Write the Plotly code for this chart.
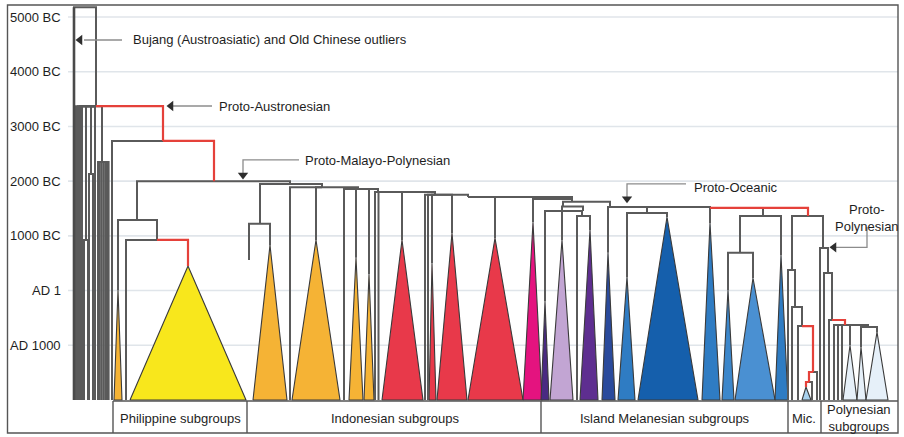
import plotly.graph_objects as go

# ---------------------------------------------------------------- time axis
tick_years = [-5000, -4000, -3000, -2000, -1000, 0, 1000]
tick_labels = ["5000 BC", "4000 BC", "3000 BC", "2000 BC", "1000 BC", "AD 1", "AD 1000"]
PRESENT_YEAR = 2000

# ------------------------------------------ internal nodes: parent and date
node_parent = {
    "Root": None,
    "Proto-Austronesian": "Root",
    "Formosan 5-6": "Proto-Austronesian",
    "Formosan 7-8": "Proto-Austronesian",
    "Formosan 10-16": "Proto-Austronesian",
    "Proto-Eastern-Formosan": "Proto-Austronesian",
    "Proto-Malayo-Polynesian": "Proto-Eastern-Formosan",
    "Philippine 0": "Proto-Malayo-Polynesian",
    "Philippine 1": "Philippine 0",
    "Indonesian 1": "Proto-Malayo-Polynesian",
    "Borneo": "Indonesian 1",
    "Indonesian 2": "Indonesian 1",
    "Indonesian 3": "Indonesian 2",
    "Indonesian 4": "Indonesian 3",
    "Indonesian 5": "Indonesian 4",
    "Indonesian 6": "Indonesian 5",
    "Indonesian 7": "Indonesian 6",
    "Indonesian 8": "Indonesian 7",
    "Western Melanesian 1": "Indonesian 8",
    "Western Melanesian 2": "Western Melanesian 1",
    "Western Melanesian 3": "Western Melanesian 2",
    "Proto-Oceanic": "Indonesian 8",
    "Western Oceanic": "Proto-Oceanic",
    "Eastern Oceanic": "Proto-Oceanic",
    "Southeast Solomonic": "Eastern Oceanic",
    "Southeast Solomonic 1": "Southeast Solomonic",
    "Central-Eastern Oceanic": "Eastern Oceanic",
    "Micronesian 1": "Central-Eastern Oceanic",
    "Micronesian 2": "Micronesian 1",
    "Micronesian 3": "Micronesian 2",
    "Micronesian 4": "Micronesian 3",
    "Micronesian 5": "Micronesian 4",
    "Proto-Polynesian": "Central-Eastern Oceanic",
    "Polynesian 1": "Proto-Polynesian",
    "Polynesian 2": "Polynesian 1",
    "Polynesian 3": "Polynesian 2",
    "Polynesian 4": "Polynesian 3",
}
node_year = {
    "Root": -5180, "Proto-Austronesian": -3370, "Formosan 5-6": -925,
    "Formosan 7-8": -2130, "Formosan 10-16": -2350, "Proto-Eastern-Formosan": -2735,
    "Proto-Malayo-Polynesian": -2000, "Philippine 0": -1290, "Philippine 1": -925,
    "Indonesian 1": -1950, "Borneo": -1220, "Indonesian 2": -1890,
    "Indonesian 3": -1855, "Indonesian 4": -1800, "Indonesian 5": -1750,
    "Indonesian 6": -1710, "Indonesian 7": -1675, "Indonesian 8": -1625,
    "Western Melanesian 1": -1535, "Western Melanesian 2": -1455,
    "Western Melanesian 3": -1365, "Proto-Oceanic": -1527, "Western Oceanic": -1420,
    "Eastern Oceanic": -1510, "Southeast Solomonic": -1363, "Southeast Solomonic 1": -690,
    "Central-Eastern Oceanic": -1363, "Micronesian 1": -376, "Micronesian 2": 300,
    "Micronesian 3": 648, "Micronesian 4": 1488, "Micronesian 5": 1671,
    "Proto-Polynesian": -778, "Polynesian 1": -321, "Polynesian 2": 538,
    "Polynesian 3": 629, "Polynesian 4": 666,
}

# ------------------------------------------- single languages (leaf lines)
leaf_parent = {
    "Bujang / Old Chinese": "Root",
    "Formosan 1": "Proto-Austronesian", "Formosan 2": "Proto-Austronesian",
    "Formosan 3": "Proto-Austronesian", "Formosan 4": "Proto-Austronesian",
    "Formosan 5": "Formosan 5-6", "Formosan 6": "Formosan 5-6",
    "Formosan 7": "Formosan 7-8", "Formosan 8": "Formosan 7-8",
    "Formosan 9": "Proto-Austronesian",
    "Formosan 10": "Formosan 10-16", "Formosan 11": "Formosan 10-16",
    "Formosan 12": "Formosan 10-16", "Formosan 13": "Formosan 10-16",
    "Formosan 14": "Formosan 10-16", "Formosan 15": "Formosan 10-16",
    "Formosan 16": "Formosan 10-16",
    "Formosan 17": "Proto-Eastern-Formosan",
    "Philippine a": "Philippine 1",
    "Borneo a": "Borneo",
    "Indonesian a": "Indonesian 2", "Indonesian b": "Indonesian 3",
    "Indonesian c": "Indonesian 4", "Indonesian d": "Indonesian 4",
    "Indonesian e": "Indonesian 5", "Indonesian f": "Indonesian 5",
    "Western Melanesian a": "Western Melanesian 3",
    "Micronesian a": "Micronesian 1", "Micronesian b": "Micronesian 2",
    "Micronesian c": "Micronesian 3", "Micronesian d": "Micronesian 4",
    "Micronesian e": "Micronesian 5",
    "Polynesian a": "Proto-Polynesian", "Polynesian b": "Polynesian 1",
    "Polynesian c": "Polynesian 2", "Polynesian d": "Polynesian 3",
    "Polynesian e": "Polynesian 3", "Polynesian f": "Polynesian 3",
}
leaf_end_year = {"Borneo a": -560}

# --------------------------------------- collapsed subgroups (triangles)
clade_parent = {
    "Philippine b": "Philippine 0", "Philippines": "Philippine 1",
    "Borneo b": "Borneo", "Borneo c": "Indonesian 2",
    "Sulawesi a": "Indonesian 3", "Sulawesi b": "Indonesian 3",
    "Sumatra": "Indonesian 4", "Java a": "Indonesian 5", "Java b": "Indonesian 5",
    "Bali-Sasak": "Indonesian 6", "Central MP": "Indonesian 7",
    "Halmahera": "Western Melanesian 2", "SHWNG a": "Western Melanesian 1",
    "SHWNG b": "Western Melanesian 3", "Admiralties": "Proto-Oceanic",
    "Western Oceanic a": "Western Oceanic", "Western Oceanic b": "Western Oceanic",
    "Meso-Melanesian": "Eastern Oceanic", "Solomonic a": "Southeast Solomonic 1",
    "Solomonic b": "Southeast Solomonic 1", "Vanuatu": "Southeast Solomonic",
    "Micronesian f": "Micronesian 5", "Polynesian g": "Polynesian 3",
    "Polynesian h": "Polynesian 4", "Polynesian i": "Polynesian 4",
}
clade_apex_year = {
    "Philippine b": -10, "Philippines": -450, "Borneo b": -830, "Borneo c": -925,
    "Sulawesi a": -600, "Sulawesi b": -300, "Sumatra": -925, "Java a": -500,
    "Java b": -1050, "Bali-Sasak": -960, "Central MP": -1250, "Halmahera": 200,
    "SHWNG a": -925, "SHWNG b": -1105, "Admiralties": -690,
    "Western Oceanic a": -250, "Western Oceanic b": -1345, "Meso-Melanesian": -1235,
    "Solomonic a": -10, "Solomonic b": -230, "Vanuatu": -650,
    "Micronesian f": 1762, "Polynesian g": 1000, "Polynesian h": 1030,
    "Polynesian i": 760,
}

# branches highlighted in red
red_branches = ["Proto-Eastern-Formosan", "Proto-Malayo-Polynesian", "Philippines",
                "Central-Eastern Oceanic", "Micronesian 4", "Micronesian 5",
                "Micronesian f", "Polynesian 3"]

# ---------------------------------------------- horizontal layout of the tree
x_pos = {
    "Root": 85, "Proto-Austronesian": 96, "Formosan 5-6": 86, "Formosan 7-8": 91,
    "Formosan 10-16": 102, "Proto-Eastern-Formosan": 163, "Proto-Malayo-Polynesian": 214,
    "Philippine 0": 137, "Philippine 1": 157, "Indonesian 1": 290, "Borneo": 260,
    "Indonesian 2": 322, "Indonesian 3": 358, "Indonesian 4": 378, "Indonesian 5": 435,
    "Indonesian 6": 468, "Indonesian 7": 572, "Indonesian 8": 572,
    "Western Melanesian 1": 563, "Western Melanesian 2": 583, "Western Melanesian 3": 582,
    "Proto-Oceanic": 610, "Western Oceanic": 647, "Eastern Oceanic": 710,
    "Southeast Solomonic": 763, "Southeast Solomonic 1": 740,
    "Central-Eastern Oceanic": 808, "Micronesian 1": 792, "Micronesian 2": 795,
    "Micronesian 3": 802, "Micronesian 4": 813, "Micronesian 5": 809,
    "Proto-Polynesian": 823, "Polynesian 1": 828, "Polynesian 2": 832,
    "Polynesian 3": 845, "Polynesian 4": 868,
    "Bujang / Old Chinese": 74, "Formosan 1": 76, "Formosan 2": 78, "Formosan 3": 80,
    "Formosan 4": 82, "Formosan 5": 84, "Formosan 6": 88, "Formosan 7": 89,
    "Formosan 8": 93, "Formosan 9": 95, "Formosan 10": 98, "Formosan 11": 99.8,
    "Formosan 12": 101.6, "Formosan 13": 103.4, "Formosan 14": 105.2,
    "Formosan 15": 107, "Formosan 16": 108.6, "Formosan 17": 112,
    "Philippine a": 126, "Borneo a": 249, "Indonesian a": 290, "Indonesian b": 344,
    "Indonesian c": 375, "Indonesian d": 378.5, "Indonesian e": 425, "Indonesian f": 428,
    "Western Melanesian a": 577, "Micronesian a": 788, "Micronesian b": 792,
    "Micronesian c": 798, "Micronesian d": 817, "Micronesian e": 812,
    "Polynesian a": 820, "Polynesian b": 824, "Polynesian c": 829,
    "Polynesian d": 834, "Polynesian e": 838, "Polynesian f": 842,
    "Philippine b": 118, "Philippines": 188, "Borneo b": 270, "Borneo c": 316,
    "Sulawesi a": 356, "Sulawesi b": 369, "Sumatra": 402, "Java a": 432, "Java b": 452,
    "Bali-Sasak": 495, "Central MP": 533, "Halmahera": 545, "SHWNG a": 562,
    "SHWNG b": 590, "Admiralties": 608, "Western Oceanic a": 627,
    "Western Oceanic b": 667, "Meso-Melanesian": 710, "Solomonic a": 728,
    "Solomonic b": 753, "Vanuatu": 781, "Micronesian f": 806, "Polynesian g": 850,
    "Polynesian h": 861, "Polynesian i": 877,
}
clade_base = {
    "Philippine b": (114, 122), "Philippines": (130, 246), "Borneo b": (253, 287),
    "Borneo c": (292, 340), "Sulawesi a": (349, 363), "Sulawesi b": (364, 374),
    "Sumatra": (382, 423), "Java a": (429, 436), "Java b": (437, 467),
    "Bali-Sasak": (468, 523), "Central MP": (523, 542), "Halmahera": (541, 549),
    "SHWNG a": (550, 573), "SHWNG b": (580, 598), "Admiralties": (602, 615),
    "Western Oceanic a": (618, 635), "Western Oceanic b": (638, 698),
    "Meso-Melanesian": (702, 720), "Solomonic a": (722, 734), "Solomonic b": (735, 775),
    "Vanuatu": (775, 788), "Micronesian f": (802, 811), "Polynesian g": (843, 857),
    "Polynesian h": (857, 866), "Polynesian i": (866, 888),
}
ORANGE, RED, BLUE = "#f5b335", "#e8394a", "#2f7cc3"
clade_fill = {
    "Philippine b": ORANGE, "Philippines": "#f8e71c", "Borneo b": ORANGE,
    "Borneo c": ORANGE, "Sulawesi a": ORANGE, "Sulawesi b": ORANGE, "Sumatra": RED,
    "Java a": RED, "Java b": RED, "Bali-Sasak": RED, "Central MP": "#e4137f",
    "Halmahera": "#4a2a82", "SHWNG a": "#c2a5d3", "SHWNG b": "#5e2e90",
    "Admiralties": "#2a4a9c", "Western Oceanic a": BLUE, "Western Oceanic b": "#155fac",
    "Meso-Melanesian": BLUE, "Solomonic a": "#3c87cb", "Solomonic b": "#4a90d2",
    "Vanuatu": BLUE, "Micronesian f": "#a9d2ee", "Polynesian g": "#e6f0f9",
    "Polynesian h": "#e6f0f9", "Polynesian i": "#e6f0f9",
}

W, H = 904, 437
FONT = "Liberation Sans, Arial, Helvetica, sans-serif"
# vertical mapping: 5000 BC at pixel 17, present day at pixel 400
px_per_year = (400 - 17) / 7000
y_top = -5000 - 17 / px_per_year
y_bottom = PRESENT_YEAR + (H - 400) / px_per_year


def branch_end(name):
    if name in node_year:
        return node_year[name]
    if name in clade_apex_year:
        return clade_apex_year[name]
    return leaf_end_year.get(name, PRESENT_YEAR)


def px(p):
    return p / W


def py(p):
    return 1 - p / H


fig = go.Figure()

# subgroup triangles
for name, parent in clade_parent.items():
    x0, x1 = clade_base[name]
    fig.add_trace(go.Scatter(
        x=[x0, x_pos[name], x1, x0],
        y=[PRESENT_YEAR, clade_apex_year[name], PRESENT_YEAR, PRESENT_YEAR],
        mode="lines", fill="toself", fillcolor=clade_fill[name],
        line=dict(color="#3a3a3a", width=1.1), hoverinfo="skip"))

# branches as elbows: across at the parent's date, then down to the child's
grey_x, grey_y, red_x, red_y = [], [], [], []
all_parents = {**node_parent, **leaf_parent, **clade_parent}
for child, parent in all_parents.items():
    if parent is None:
        continue
    y_par = node_year[parent]
    xs = [x_pos[parent], x_pos[child], x_pos[child], None]
    ys = [y_par, y_par, branch_end(child), None]
    if child in red_branches:
        red_x += xs
        red_y += ys
    else:
        grey_x += xs
        grey_y += ys

fig.add_trace(go.Scatter(x=grey_x, y=grey_y, mode="lines",
                         line=dict(color="#5a5a5a", width=2), hoverinfo="skip"))
fig.add_trace(go.Scatter(x=red_x, y=red_y, mode="lines",
                         line=dict(color="#e5413a", width=2.2), hoverinfo="skip"))
# the outgroup branch is drawn heavier
fig.add_trace(go.Scatter(x=[x_pos["Bujang / Old Chinese"]] * 2,
                         y=[node_year["Root"], PRESENT_YEAR], mode="lines",
                         line=dict(color="#4a4a4a", width=2.6), hoverinfo="skip"))

# callout arrows
ARROW = dict(color="#8c8c8c", width=1.3)
callouts = [
    ([122, 84], [-4580, -4580], 80, -4580, "triangle-left"),
    ([212, 173], [-3373, -3373], 171, -3373, "triangle-left"),
    ([299, 243, 243], [-2390, -2390, -2110], 243, -2110, "triangle-down"),
    ([686, 627, 627], [-1950, -1950, -1680], 627, -1680, "triangle-down"),
    ([867, 867, 836], [-1160, -790, -790], 834, -790, "triangle-left"),
]
for lx, ly, hx, hy, sym in callouts:
    fig.add_trace(go.Scatter(x=lx, y=ly, mode="lines", line=ARROW, hoverinfo="skip"))
    fig.add_trace(go.Scatter(x=[hx], y=[hy], mode="markers", hoverinfo="skip",
                             marker=dict(symbol=sym, size=9, color="#2e2e2e")))

annotations = []
callout_text = [
    (131, -4580, "Bujang (Austroasiatic) and Old Chinese outliers", "left"),
    (217, -3373, "Proto-Austronesian", "left"),
    (303, -2385, "Proto-Malayo-Polynesian", "left"),
    (692, -1875, "Proto-Oceanic", "left"),
    (867, -1335, "Proto-<br>Polynesian", "center"),
]
for x, y, t, anchor in callout_text:
    annotations.append(dict(x=x, y=y, xref="x", yref="y", text=t, showarrow=False,
                            xanchor=anchor, yanchor="middle", align="center",
                            font=dict(family=FONT, size=13, color="#1e1e1e")))

# time labels
for yr, lab in zip(tick_years, tick_labels):
    annotations.append(dict(x=63, y=yr, xref="x", yref="y", text=lab, showarrow=False,
                            xanchor="right", yanchor="middle",
                            font=dict(family=FONT, size=13, color="#1e1e1e")))

# subgroup captions under the tree
group_labels = [(180, "Philippine subgroups"), (395, "Indonesian subgroups"),
                (665, "Island Melanesian subgroups"), (804, "Mic."),
                (859, "Polynesian<br>subgroups")]
for x, t in group_labels:
    annotations.append(dict(x=px(x), y=py(418), xref="paper", yref="paper", text=t,
                            showarrow=False, xanchor="center", yanchor="middle",
                            font=dict(family=FONT, size=13, color="#1e1e1e")))

shapes = []
for yr in tick_years:
    shapes.append(dict(type="line", xref="x", yref="y", x0=68, x1=898, y0=yr, y1=yr,
                       line=dict(color="#e0e5ea", width=1.6), layer="below"))
frame = dict(color="#555555", width=1.4)
shapes.append(dict(type="rect", xref="paper", yref="paper", x0=px(7.5), x1=px(898),
                   y0=py(433), y1=py(5), line=frame))
shapes.append(dict(type="line", xref="paper", yref="paper", x0=px(113), x1=px(898),
                   y0=py(401), y1=py(401), line=frame))
for xd in [113, 247, 541, 788, 821]:
    shapes.append(dict(type="line", xref="paper", yref="paper", x0=px(xd), x1=px(xd),
                       y0=py(401), y1=py(433), line=frame))

fig.update_layout(
    width=W, height=H, margin=dict(l=0, r=0, t=0, b=0),
    paper_bgcolor="white", plot_bgcolor="white", showlegend=False,
    xaxis=dict(range=[0, W], visible=False, fixedrange=True),
    yaxis=dict(range=[y_bottom, y_top], visible=False, fixedrange=True),
    annotations=annotations, shapes=shapes,
)

fig.write_html("out.html", config={"displayModeBar": False, "staticPlot": True})
